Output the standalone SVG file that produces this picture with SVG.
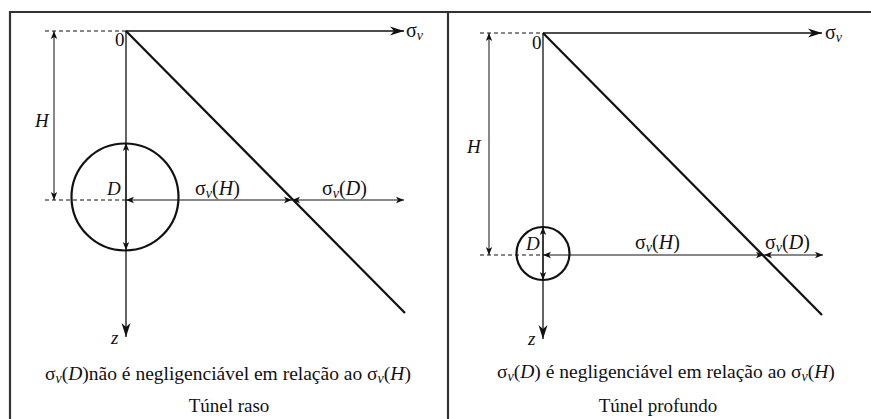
<svg xmlns="http://www.w3.org/2000/svg" width="871" height="419" viewBox="0 0 871 419" font-family="Liberation Serif">
<defs>
<marker id="big" markerUnits="userSpaceOnUse" markerWidth="16" markerHeight="10" refX="14" refY="5" orient="auto">
<path d="M0,0.5 L14,5 L0,9.5 L4,5 Z" fill="#111"/>
</marker>
<marker id="sm" markerUnits="userSpaceOnUse" markerWidth="10" markerHeight="8" refX="8" refY="4" orient="auto-start-reverse">
<path d="M0,0.8 L8,4 L0,7.2 L2,4 Z" fill="#111"/>
</marker>
</defs>
<g id="frame" stroke="#333" stroke-width="2.2" fill="none">
<line x1="9" y1="12" x2="871" y2="12"/>
<line x1="10" y1="11" x2="10" y2="419"/>
<line x1="448" y1="11" x2="448" y2="419"/>
</g>
<g id="left-panel">
<g id="left-connectors" stroke="#111" fill="none">
<line stroke-width="1.3" x1="126" y1="31" x2="404" y2="31" marker-end="url(#big)"/>
<line stroke-width="1.3" x1="126" y1="31" x2="126" y2="337" marker-end="url(#big)"/>
<line stroke-width="1" stroke-dasharray="4,3" x1="45" y1="31" x2="126" y2="31"/>
<line stroke-width="1" stroke-dasharray="4,3" x1="45" y1="200" x2="126" y2="200"/>
<line stroke-width="1" x1="54" y1="31" x2="54" y2="200" marker-start="url(#sm)" marker-end="url(#sm)"/>
<line stroke-width="1" x1="126" y1="200" x2="126" y2="143" marker-end="url(#sm)"/>
<line stroke-width="1" x1="126" y1="200" x2="126" y2="250" marker-end="url(#sm)"/>
<line stroke-width="1" x1="126" y1="200" x2="292" y2="200" marker-start="url(#sm)" marker-end="url(#sm)"/>
<line stroke-width="1" x1="292" y1="200" x2="404" y2="200" marker-start="url(#sm)" marker-end="url(#sm)"/>
<line stroke-width="2.2" x1="126" y1="31" x2="405" y2="313"/>
</g>
<g id="left-tunnel">
<circle cx="125" cy="197" r="53.5" stroke="#111" stroke-width="2.2" fill="none"/>
</g>
<g id="left-labels" fill="#111">
<text font-family="Liberation Serif" font-size="20" x="406" y="37">σ<tspan font-style="italic" font-size="14" dy="3">v</tspan></text>
<text font-family="Liberation Serif" font-size="19" x="115" y="46">0</text>
<text font-family="Liberation Serif" font-size="19" font-style="italic" x="35" y="127">H</text>
<text font-family="Liberation Serif" font-size="19" font-style="italic" x="107" y="195">D</text>
<text font-family="Liberation Serif" font-size="19" font-style="italic" x="111" y="344">z</text>
<text font-family="Liberation Serif" font-size="20" x="195" y="195">σ<tspan font-style="italic" font-size="14" dy="3">v</tspan><tspan dy="-3">(</tspan><tspan font-style="italic">H</tspan>)</text>
<text font-family="Liberation Serif" font-size="20" x="322" y="195">σ<tspan font-style="italic" font-size="14" dy="3">v</tspan><tspan dy="-3">(</tspan><tspan font-style="italic">D</tspan>)</text>
<text font-family="Liberation Serif" font-size="19.5" x="45" y="380">σ<tspan font-style="italic" font-size="14" dy="3">v</tspan><tspan dy="-3">(</tspan><tspan font-style="italic">D</tspan>)não é negligenciável em relação ao σ<tspan font-style="italic" font-size="14" dy="3">v</tspan><tspan dy="-3">(</tspan><tspan font-style="italic">H</tspan>)</text>
<text font-family="Liberation Serif" font-size="19" x="229" y="412" text-anchor="middle">Túnel raso</text>
</g>
</g>
<g id="right-panel">
<g id="right-connectors" stroke="#111" fill="none">
<line stroke-width="1.3" x1="543" y1="33" x2="822" y2="33" marker-end="url(#big)"/>
<line stroke-width="1.3" x1="543" y1="33" x2="543" y2="339" marker-end="url(#big)"/>
<line stroke-width="1" stroke-dasharray="4,3" x1="480" y1="33" x2="543" y2="33"/>
<line stroke-width="1" stroke-dasharray="4,3" x1="480" y1="255" x2="543" y2="255"/>
<line stroke-width="1" x1="489" y1="33" x2="489" y2="255" marker-start="url(#sm)" marker-end="url(#sm)"/>
<line stroke-width="1" x1="543" y1="255" x2="543" y2="227" marker-end="url(#sm)"/>
<line stroke-width="1" x1="543" y1="255" x2="543" y2="280" marker-end="url(#sm)"/>
<line stroke-width="1" x1="543" y1="255" x2="764" y2="255" marker-start="url(#sm)" marker-end="url(#sm)"/>
<line stroke-width="1" x1="764" y1="255" x2="823" y2="255" marker-start="url(#sm)" marker-end="url(#sm)"/>
<line stroke-width="2.2" x1="543" y1="33" x2="822" y2="315"/>
</g>
<g id="right-tunnel">
<circle cx="543" cy="253.5" r="26.5" stroke="#111" stroke-width="2.2" fill="none"/>
</g>
<g id="right-labels" fill="#111">
<text font-family="Liberation Serif" font-size="20" x="825" y="39">σ<tspan font-style="italic" font-size="14" dy="3">v</tspan></text>
<text font-family="Liberation Serif" font-size="19" x="532" y="49">0</text>
<text font-family="Liberation Serif" font-size="19" font-style="italic" x="467" y="153">H</text>
<text font-family="Liberation Serif" font-size="19" font-style="italic" x="526" y="250">D</text>
<text font-family="Liberation Serif" font-size="19" font-style="italic" x="528" y="345">z</text>
<text font-family="Liberation Serif" font-size="20" x="635" y="249">σ<tspan font-style="italic" font-size="14" dy="3">v</tspan><tspan dy="-3">(</tspan><tspan font-style="italic">H</tspan>)</text>
<text font-family="Liberation Serif" font-size="20" x="765" y="249">σ<tspan font-style="italic" font-size="14" dy="3">v</tspan><tspan dy="-3">(</tspan><tspan font-style="italic">D</tspan>)</text>
<text font-family="Liberation Serif" font-size="19.5" x="497" y="378">σ<tspan font-style="italic" font-size="14" dy="3">v</tspan><tspan dy="-3">(</tspan><tspan font-style="italic">D</tspan>) é negligenciável em relação ao σ<tspan font-style="italic" font-size="14" dy="3">v</tspan><tspan dy="-3">(</tspan><tspan font-style="italic">H</tspan>)</text>
<text font-family="Liberation Serif" font-size="19" x="658" y="412" text-anchor="middle">Túnel profundo</text>
</g>
</g>
</svg>
